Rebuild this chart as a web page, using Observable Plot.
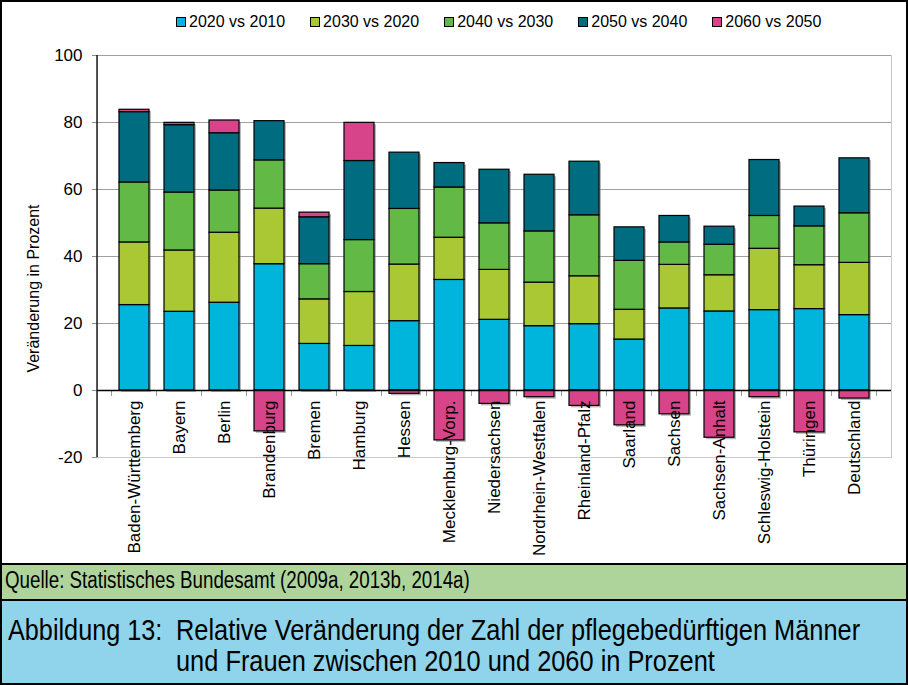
<!DOCTYPE html>
<html><head><meta charset="utf-8">
<script src="https://cdn.jsdelivr.net/npm/d3@7"></script>
<script src="https://cdn.jsdelivr.net/npm/@observablehq/plot@0.6"></script>
<style>
body{margin:0;background:#fff;font-family:"Liberation Sans",Arial,sans-serif;}
#page{position:relative;width:908px;height:685px;overflow:hidden;background:#fff;}
#chart{position:absolute;left:0;top:0;}
#legend{position:absolute;left:176px;top:14px;display:flex;gap:25px;font-size:16px;line-height:16px;color:#000;white-space:nowrap;}
.item{display:flex;align-items:center;}
.sw{width:8px;height:8px;border:1px solid #000;margin-right:3px;}
#src{position:absolute;left:0;top:563px;width:908px;height:38px;background:#afd49b;border-top:2px solid #000;border-bottom:2px solid #000;box-sizing:border-box;}
#cap{position:absolute;left:0;top:601px;width:908px;height:84px;background:#8fd4ea;}
.t{position:absolute;white-space:nowrap;transform-origin:0 0;line-height:1;color:#000;}
#border{position:absolute;left:0;top:0;width:908px;height:685px;border:2px solid #000;box-sizing:border-box;pointer-events:none;}
</style></head>
<body>
<div id="page">
  <div id="chart"></div>
  <div id="legend"></div>
  <div id="src"></div>
  <div id="cap"></div>
  <div class="t" id="q" style="left:5px;top:569px;font-size:23px;transform:scaleX(0.815);">Quelle: Statistisches Bundesamt (2009a, 2013b, 2014a)</div>
  <div class="t" style="left:8px;top:616px;font-size:29px;transform:scaleX(0.87);">Abbildung 13:</div>
  <div class="t" style="left:176px;top:616px;font-size:29px;transform:scaleX(0.875);">Relative Veränderung der Zahl der pflegebedürftigen Männer</div>
  <div class="t" style="left:176px;top:647px;font-size:29px;transform:scaleX(0.875);">und Frauen zwischen 2010 und 2060 in Prozent</div>
  <div id="border"></div>
</div>
<script>
const states = ["Baden-Württemberg","Bayern","Berlin","Brandenburg","Bremen","Hamburg","Hessen","Mecklenburg-Vorp.","Niedersachsen","Nordrhein-Westfalen","Rheinland-Pfalz","Saarland","Sachsen","Sachsen-Anhalt","Schleswig-Holstein","Thüringen","Deutschland"];
const series = ["2020 vs 2010","2030 vs 2020","2040 vs 2030","2050 vs 2040","2060 vs 2050"];
const colors = ["#00b5dc","#a9c834","#62b946","#006c7f","#d8448a"];
const v2020 = [25.5, 23.5, 26.2, 37.7, 13.9, 13.3, 20.7, 33.0, 21.1, 19.2, 19.8, 15.2, 24.5, 23.6, 24.0, 24.3, 22.5];
const v2030 = [18.7, 18.3, 20.9, 16.6, 13.3, 16.1, 16.9, 12.6, 14.9, 13.0, 14.3, 8.9, 13.0, 10.8, 18.3, 13.1, 15.6];
const v2040 = [17.9, 17.3, 12.6, 14.4, 10.5, 15.5, 16.6, 15.0, 13.9, 15.3, 18.2, 14.6, 6.7, 9.1, 9.8, 11.6, 14.8];
const v2050 = [21.0, 20.1, 17.1, 11.7, 14.0, 23.6, 16.8, 7.3, 16.0, 16.9, 16.0, 10.0, 7.9, 5.4, 16.7, 5.9, 16.4];
const v2060 = [0.7, 0.7, 3.8, -12.2, 1.4, 11.4, -1.0, -14.9, -4.0, -2.0, -4.6, -10.4, -7.1, -14.1, -2.0, -12.5, -2.4];
const yTicks = [-20, 0, 20, 40, 60, 80, 100];
const gridTicks = [20, 40, 60, 80, 100];
const yTitle = "Veränderung in Prozent";

const valueLists = [v2020, v2030, v2040, v2050, v2060];
const data = [];
series.forEach((s, si) => states.forEach((st, i) => data.push({state: st, series: s, value: valueLists[si][i]})));

// legend
const lg = document.getElementById("legend");
series.forEach((s, i) => {
  const it = document.createElement("div"); it.className = "item";
  const sw = document.createElement("div"); sw.className = "sw"; sw.style.background = colors[i];
  const tx = document.createElement("span"); tx.textContent = s;
  it.append(sw, tx); lg.append(it);
});

function leftAxisLine(index, scales, values, dims) {
  return d3.create("svg:line")
    .attr("x1", dims.marginLeft).attr("x2", dims.marginLeft)
    .attr("y1", dims.marginTop).attr("y2", dims.height - dims.marginBottom)
    .attr("stroke", "#000").attr("stroke-width", 1.3).node();
}
function catTicks(index, scales, values, dims) {
  const x = scales.x, y = scales.y;
  const step = x(states[1]) - x(states[0]);
  const bw = x.bandwidth ? x.bandwidth() : step * 0.664;
  const start = x(states[0]) - (step - bw) / 2;
  const g = d3.create("svg:g").attr("stroke", "#9a9a9a").attr("stroke-width", 1);
  for (let i = 0; i <= states.length; i++) {
    const bx = start + i * step;
    g.append("line").attr("x1", bx).attr("x2", bx).attr("y1", y(0)).attr("y2", y(0) + 6);
  }
  return g.node();
}

const chart = Plot.plot({
  width: 908, height: 565,
  marginTop: 55, marginLeft: 97, marginRight: 17, marginBottom: 108,
  style: {background: "transparent", fontFamily: "'Liberation Sans', Arial, sans-serif", fontSize: "17px", color: "#000"},
  x: {domain: states, padding: 0.336, axis: null},
  y: {domain: [-20, 100], label: null},
  color: {domain: series, range: colors},
  marks: [
    Plot.frame({stroke: "#c8c8c8"}),
    Plot.gridY({ticks: gridTicks, stroke: "#a0a0a0", strokeOpacity: 1}),
    Plot.axisY({ticks: yTicks, tickSize: 5, tickPadding: 10, fontSize: 17, label: null, stroke: "#8c8c8c", fill: "#000", tickFormat: d => String(d)}),
    Plot.barY(data, {x: "state", y: "value", fill: "#808080", fillOpacity: 0.55, dx: 2, dy: 2}),
    Plot.barY(data, {x: "state", y: "value", fill: "series", stroke: "#000", strokeWidth: 1.2}),
    catTicks,
    Plot.ruleY([0], {stroke: "#000", strokeWidth: 1.3}),
    leftAxisLine,
    Plot.text(states, {x: d => d, y: () => 0, text: d => d, rotate: -90, textAnchor: "end", dy: 10, fontSize: 17, fill: "#000"}),
    Plot.text([yTitle], {frameAnchor: "left", text: d => d, rotate: -90, textAnchor: "middle", dx: -64, dy: 32, fontSize: 16, fill: "#000"})
  ]
});
document.getElementById("chart").append(chart);
</script>
</body></html>
